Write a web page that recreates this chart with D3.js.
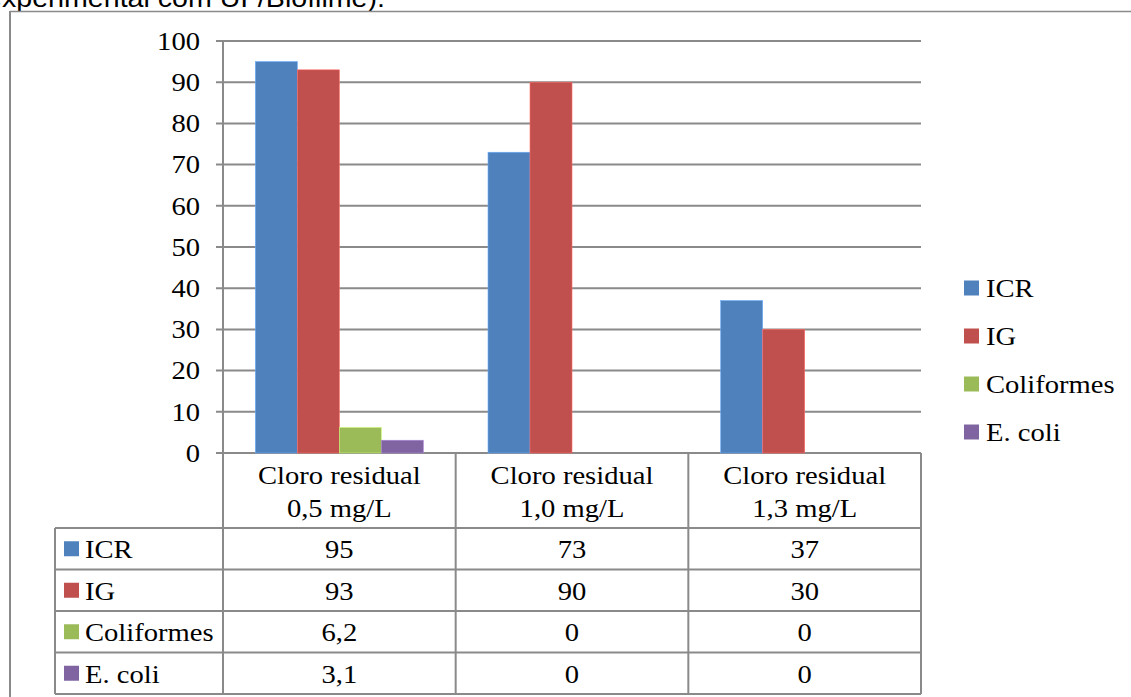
<!DOCTYPE html>
<html>
<head>
<meta charset="utf-8">
<script src="https://cdn.jsdelivr.net/npm/d3@7"></script>
<style>
  html, body { margin: 0; padding: 0; background: #fff; }
  svg { display: block; }
</style>
</head>
<body>
<svg id="chart" width="1131" height="697"></svg>
<script>
// Categories (two-line axis labels) and series values
const categoryLine1 = ["Cloro residual", "Cloro residual", "Cloro residual"];
const categoryLine2 = ["0,5 mg/L", "1,0 mg/L", "1,3 mg/L"];
const seriesNames = ["ICR", "IG", "Coliformes", "E. coli"];
const seriesColors = ["#4F81BD", "#C0504D", "#9BBB59", "#8064A2"];
const valuesICR = [95, 73, 37];
const valuesIG = [93, 90, 30];
const valuesColiformes = [6.2, 0, 0];
const valuesEcoli = [3.1, 0, 0];
const valueLabels = [
  ["95", "73", "37"],
  ["93", "90", "30"],
  ["6,2", "0", "0"],
  ["3,1", "0", "0"]
];
const yTicks = [0, 10, 20, 30, 40, 50, 60, 70, 80, 90, 100];
const captionText = "experimental com UF/Biofilme).";

const seriesValues = [valuesICR, valuesIG, valuesColiformes, valuesEcoli];

const svg = d3.select("#chart");
const gridColor = "#8a8a8a";
const serif = "'Liberation Serif', 'Times New Roman', serif";
const sx = 1.1; // horizontal widening of the lettering

// Layout
const plotLeft = 223, plotRight = 921, plotTop = 41, plotBottom = 453;
const tableLeft = 55;
const headerBottom = 528;
const rowH = (694 - headerBottom) / 4;

const x = d3.scaleBand()
  .domain(d3.range(categoryLine1.length))
  .range([plotLeft, plotRight])
  .padding(0);

const xInner = d3.scaleBand()
  .domain(seriesNames)
  .range([0, x.bandwidth()])
  .paddingInner(0)
  .paddingOuter(0.77);

const y = d3.scaleLinear().domain([0, 100]).range([plotBottom, plotTop]);

function addText(g, tx, ty, str, opts = {}) {
  return g.append("text")
    .attr("transform", `translate(${tx},${ty}) scale(${opts.sx || sx},1)`)
    .attr("text-anchor", opts.anchor || "start")
    .style("font-family", opts.family || serif)
    .style("font-size", (opts.size || 26) + "px")
    .style("fill", "#000")
    .text(str);
}

// Caption fragment at the top and outer frame
addText(svg, 385, 7, captionText, { anchor: "end", family: "'Liberation Sans', Arial, sans-serif", size: 26 });
svg.append("line").attr("x1", 10).attr("x2", 1131).attr("y1", 11.5).attr("y2", 11.5)
  .attr("stroke", "#8a8a8a").attr("stroke-width", 1.5);
svg.append("line").attr("x1", 10).attr("x2", 10).attr("y1", 11).attr("y2", 697)
  .attr("stroke", "#8a8a8a").attr("stroke-width", 2);

// Gridlines with tick stubs
const grid = svg.append("g");
grid.selectAll("line").data(yTicks).join("line")
  .attr("x1", plotLeft - 7).attr("x2", plotRight)
  .attr("y1", d => y(d)).attr("y2", d => y(d))
  .attr("stroke", gridColor).attr("stroke-width", 2);

// Y axis labels
const yLab = svg.append("g");
yTicks.forEach(t => addText(yLab, 200, y(t) + 8.8, String(t), { anchor: "end" }));

// Bars
const bars = svg.append("g");
seriesNames.forEach((name, si) => {
  bars.selectAll(null).data(seriesValues[si]).join("rect")
    .attr("x", (d, i) => x(i) + xInner(name))
    .attr("width", xInner.bandwidth())
    .attr("y", d => y(d))
    .attr("height", d => y(0) - y(d))
    .attr("fill", seriesColors[si])
    .attr("stroke", d3.color(seriesColors[si]).brighter(0.8))
    .attr("stroke-width", 0.6);
});

// Data table lines
const tbl = svg.append("g").attr("stroke", gridColor).attr("stroke-width", 2);
tbl.append("line").attr("x1", plotLeft).attr("x2", plotLeft).attr("y1", plotTop).attr("y2", 694);
d3.range(1, categoryLine1.length + 1).forEach(i => {
  const xx = plotLeft + i * x.bandwidth();
  tbl.append("line").attr("x1", xx).attr("x2", xx).attr("y1", plotBottom).attr("y2", 694);
});
tbl.append("line").attr("x1", tableLeft).attr("x2", tableLeft).attr("y1", headerBottom).attr("y2", 694);
d3.range(5).forEach(r => {
  const yy = headerBottom + r * rowH;
  tbl.append("line").attr("x1", tableLeft).attr("x2", plotRight).attr("y1", yy).attr("y2", yy);
});

// Category header text
const hdr = svg.append("g");
categoryLine1.forEach((c, i) => {
  const cx = x(i) + x.bandwidth() / 2;
  addText(hdr, cx, 484, c, { anchor: "middle" });
  addText(hdr, cx, 516.5, categoryLine2[i], { anchor: "middle" });
});

// Table rows: legend keys and values
const rows = svg.append("g");
seriesNames.forEach((name, si) => {
  const cy = headerBottom + (si + 0.5) * rowH;
  rows.append("rect").attr("x", 64).attr("y", cy - 7.5).attr("width", 15).attr("height", 15)
    .attr("fill", seriesColors[si]);
  addText(rows, 85, cy + 9.3, name);
  valueLabels[si].forEach((v, i) => {
    addText(rows, x(i) + x.bandwidth() / 2, cy + 9.3, v, { anchor: "middle" });
  });
});

// Legend on the right
const legend = svg.append("g");
seriesNames.forEach((name, si) => {
  const cy = 288 + si * 48;
  legend.append("rect").attr("x", 964).attr("y", cy - 7.5).attr("width", 15).attr("height", 15)
    .attr("fill", seriesColors[si]);
  addText(legend, 986, cy + 9.3, name);
});
</script>
</body>
</html>
